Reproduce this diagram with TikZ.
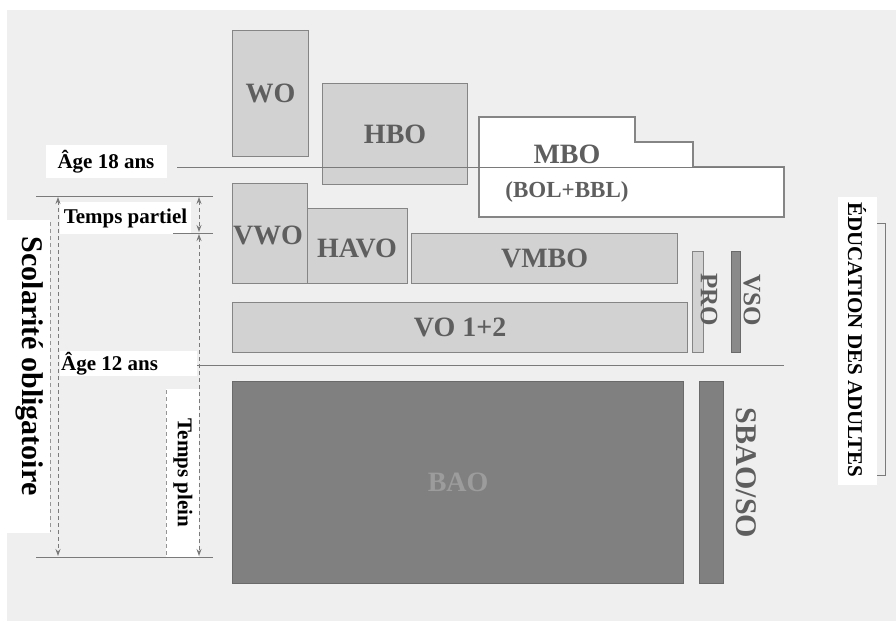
\documentclass[tikz,border=0pt]{standalone}
\usepackage{fontspec}
\setmainfont{Liberation Serif}
\usetikzlibrary{arrows.meta}
\definecolor{bg}{HTML}{EFEFEF}
\definecolor{lightfill}{HTML}{D2D2D2}
\definecolor{darkfill}{HTML}{808080}
\definecolor{midfill}{HTML}{8A8A8A}
\definecolor{edge}{HTML}{858585}
\definecolor{darkedge}{HTML}{6A6A6A}
\definecolor{boxtext}{HTML}{5E5E5E}
\definecolor{baotext}{HTML}{9C9C9C}
\definecolor{linegrey}{HTML}{7A7A7A}
\begin{document}
\begin{tikzpicture}[x=1pt,y=-1pt,
  lbl/.style={font=\fontsize{21}{21}\selectfont\bfseries, text=black, inner sep=0},
  big/.style={font=\fontsize{30}{30}\selectfont\bfseries, text=black, inner sep=0},
  wbox/.style={fill=white, inner sep=0, anchor=north west},
  lightbox/.style={draw=edge, line width=1.2pt, fill=lightfill, anchor=north west, inner sep=0,
     font=\fontsize{28}{28}\selectfont\bfseries, text=boxtext},
  darkbox/.style={draw=darkedge, line width=1.2pt, fill=darkfill, anchor=north west, inner sep=0,
     font=\fontsize{28}{28}\selectfont\bfseries, text=baotext},
  boxlbl/.style={font=\fontsize{28}{28}\selectfont\bfseries, text=boxtext, inner sep=0},
  ln/.style={draw=linegrey, line width=1pt},
  dim/.style={draw=linegrey, line width=0.9pt, dash pattern=on 4pt off 3pt,
     {Stealth[length=7pt,width=5pt]}-{Stealth[length=7pt,width=5pt]}},
  dsh/.style={draw=linegrey!80, line width=0.9pt, dash pattern=on 4pt off 3pt}
]
\useasboundingbox (0,0) rectangle (896,621);
\fill[white] (0,0) rectangle (896,621);
\fill[bg] (7,10) rectangle (896,621);

% white label panels
\node[wbox, minimum width=50, minimum height=313] (scolbox) at (0,220) {};
\node[wbox, minimum width=121, minimum height=33] (a18box) at (46,145) {};
\node[wbox, minimum width=131, minimum height=32] (tpbox) at (60,202) {};
\node[wbox, minimum width=137, minimum height=25] (a12box) at (60,351) {};
\node[wbox, minimum width=33, minimum height=168] (tplbox) at (166,389) {};
\node[wbox, minimum width=39, minimum height=288] (eduvbox) at (838,197) {};

% upper boxes
\node[lightbox, minimum width=76, minimum height=126] (wo) at (232,30) {WO};
\node[lightbox, minimum width=145, minimum height=101] (hbo) at (322,83) {HBO};
\draw[draw=edge, line width=1.2pt, fill=white]
  (479,117) -- (635,117) -- (635,142) -- (693,142) -- (693,167) -- (784,167)
  -- (784,217) -- (479,217) -- cycle;
\node[boxlbl] (mbo) at (567,154) {MBO};
\node[boxlbl, font=\fontsize{23}{23}\selectfont\bfseries] (bolbbl) at (567,192) {(BOL+BBL)};

\node[lightbox, minimum width=75, minimum height=100] (vwo) at (232,183) {};
\node[boxlbl] (vwol) at (268,235) {VWO};
\node[lightbox, minimum width=100, minimum height=75] (havo) at (307,208) {};
\node[boxlbl] (havol) at (357,248) {HAVO};
\node[lightbox, minimum width=266, minimum height=50] (vmbo) at (411,233) {VMBO};
\node[lightbox, minimum width=455, minimum height=50] (vo) at (232,302) {VO 1+2};

\node[lightbox, minimum width=11, minimum height=101] (pro) at (692,251) {};
\node[boxlbl, rotate=-90, font=\fontsize{25}{25}\selectfont\bfseries] (prol) at (709,300) {PRO};
\node[draw=darkedge, line width=1pt, fill=midfill, anchor=north west, inner sep=0,
  minimum width=9, minimum height=101] (vso) at (731,251) {};
\node[boxlbl, rotate=-90, font=\fontsize{25}{25}\selectfont\bfseries] (vsol) at (752,300) {VSO};

% lower boxes
\node[darkbox, minimum width=451, minimum height=202] (bao) at (232,381) {BAO};
\node[draw=darkedge, line width=1.2pt, fill=darkfill, anchor=north west, inner sep=0,
  minimum width=24, minimum height=202] (sbao) at (699,381) {};
\node[boxlbl, rotate=-90, font=\fontsize{30}{30}\selectfont\bfseries] (sbaol) at (746,473) {SBAO/SO};

% age lines
\coordinate (l18a) at (177,167); \coordinate (l18b) at (784,167);
\coordinate (l12a) at (197,365); \coordinate (l12b) at (784,365);
\draw[ln] (l18a) -- (l18b);
\draw[ln] (l12a) -- (l12b);

% left dimension lines
\coordinate (topa) at (36,196); \coordinate (topb) at (213,196);
\coordinate (mida) at (173,233); \coordinate (midb) at (213,233);
\coordinate (bota) at (36,557); \coordinate (botb) at (213,557);
\draw[ln] (topa) -- (topb);
\draw[ln] (mida) -- (midb);
\draw[ln] (bota) -- (botb);

\coordinate (s1) at (58,197); \coordinate (s2) at (58,556);
\coordinate (p1) at (199,197); \coordinate (p2) at (199,232);
\coordinate (q1) at (199,234); \coordinate (q2) at (199,556);
\draw[dim] (s1) -- (s2);
\draw[dim] (p1) -- (p2);
\draw[dim] (q1) -- (q2);
\coordinate (d1) at (50,222); \coordinate (d2) at (50,532);
\coordinate (e1) at (166,390); \coordinate (e2) at (166,556);
\draw[dsh] (d1) -- (d2);
\draw[dsh] (e1) -- (e2);

% texts
\node[lbl] (a18) at (106,162) {Âge 18 ans};
\node[lbl] (tp) at (125.5,218) {Temps partiel};
\node[lbl, anchor=west] (a12) at (61,364) {Âge 12 ans};
\node[lbl, rotate=-90] (tpl) at (183,473) {Temps plein};
\node[big, rotate=-90] (scol) at (30,366) {Scolarité obligatoire};
\node[lbl, rotate=-90] (edu) at (857,340) {ÉDUCATION DES ADULTES};

% bracket
\coordinate (b1) at (877,223); \coordinate (b2) at (885,223);
\coordinate (b3) at (885,475); \coordinate (b4) at (877,475);
\draw[draw=linegrey, line width=1pt] (b1) -- (b2) -- (b3) -- (b4);
\end{tikzpicture}
\end{document}
